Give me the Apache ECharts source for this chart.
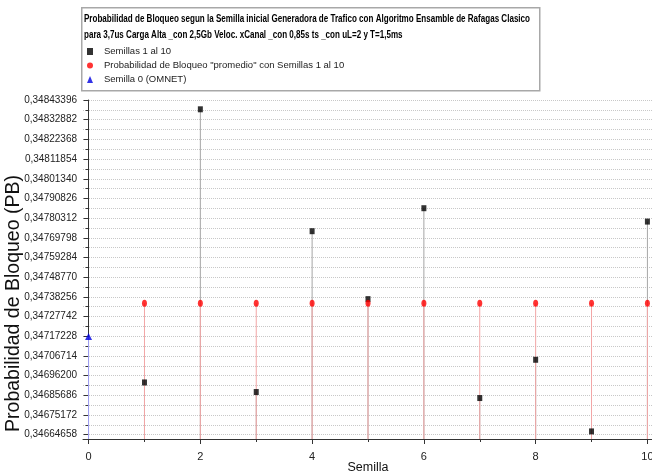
<!DOCTYPE html>
<html><head><meta charset="utf-8">
<script src="https://cdn.jsdelivr.net/npm/echarts@6/dist/echarts.min.js"></script>
<style>html,body{margin:0;padding:0;background:#fff}#c{width:652px;height:473px}</style>
</head><body><div id="c"></div>
<script>
// ---- data ----
const seeds = [1, 2, 3, 4, 5, 6, 7, 8, 9, 10];
const seedValues = [0.3469257, 0.3483843, 0.3468745, 0.3477334, 0.3473706, 0.3478561, 0.3468424, 0.3470468, 0.3466642, 0.3477847];
const meanValues = [0.3473483, 0.3473483, 0.3473483, 0.3473483, 0.3473483, 0.3473483, 0.3473483, 0.3473483, 0.3473483, 0.3473483];
const omnetSeeds = [0];
const omnetValues = [0.3471705];
const yTickLabels = ['0,34664658','0,34675172','0,34685686','0,34696200','0,34706714','0,34717228','0,34727742','0,34738256','0,34748770','0,34759284','0,34769798','0,34780312','0,34790826','0,34801340','0,34811854','0,34822368','0,34832882','0,34843396'];
const xTickValues = [0, 2, 4, 6, 8, 10];
const xMinorTickValues = [1, 3, 5, 7, 9];
const titleLines = [
  'Probabilidad de Bloqueo segun la Semilla inicial Generadora de Trafico con Algoritmo Ensamble de Rafagas Clasico',
  'para 3,7us Carga Alta _con 2,5Gb Veloc. xCanal _con 0,85s ts _con uL=2 y T=1,5ms'
];
const Y_MIN = 0.3466237, Y_MAX = 0.34843396;
const X_MIN = -0.1, X_MAX = 10.1;

const yMajor = yTickLabels.map(s => parseFloat(s.replace(',', '.')));
const yMinor = yMajor.slice(0, -1).map((v, i) => (v + yMajor[i + 1]) / 2);
const labelOf = {};
yMajor.forEach((v, i) => { labelOf[v.toFixed(8)] = yTickLabels[i]; });

const SANS = "'Liberation Sans', Arial, sans-serif";

function dropLines(xs, ys, color) {
  return {
    type: 'custom', silent: true, clip: true,
    data: xs.map((x, i) => [x, ys[i]]),
    renderItem(params, api) {
      const p1 = api.coord([api.value(0), api.value(1)]);
      const p0 = api.coord([api.value(0), Y_MIN]);
      return { type: 'line', shape: { x1: p0[0], y1: p0[1], x2: p1[0], y2: p1[1] }, style: { stroke: color, lineWidth: 1 } };
    }
  };
}

const chart = echarts.init(document.getElementById('c'), null, { renderer: 'canvas' });
chart.setOption({
  animation: false,
  backgroundColor: '#fff',
  legend: {
    orient: 'vertical', left: 87, top: 46.5, padding: 0, itemGap: 4,
    itemWidth: 6, itemHeight: 7,
    textStyle: { fontFamily: SANS, fontSize: 9.5, color: '#222', lineHeight: 9, padding: [0, 0, 0, 6] },
    data: [
      { name: 'Semillas 1 al 10', icon: 'rect', itemStyle: { color: '#000' } },
      { name: 'Probabilidad de Bloqueo "promedio" con Semillas 1 al 10', icon: 'circle' },
      { name: 'Semilla 0 (OMNET)', icon: 'triangle' }
    ]
  },
  graphic: [
    {
      type: 'rect', left: 81, top: 7, z: -1, silent: true,
      shape: { width: 458, height: 83 },
      style: { fill: 'rgba(255,255,255,0)', stroke: '#a8a8a8', lineWidth: 1.5 }
    },
    {
      type: 'text', x: 84, y: 18.5, scaleX: 0.70, silent: true,
      style: { text: titleLines[0], fontFamily: SANS, fontSize: 11.5, fontWeight: 'bold', fill: '#000', verticalAlign: 'middle' }
    },
    {
      type: 'text', x: 84, y: 35, scaleX: 0.70, silent: true,
      style: { text: titleLines[1], fontFamily: SANS, fontSize: 11.5, fontWeight: 'bold', fill: '#000', verticalAlign: 'middle' }
    }
  ],
  grid: { left: 83, right: -1, top: 100, bottom: 34, outerBoundsMode: 'none', containLabel: false },
  xAxis: [{
    type: 'value', min: X_MIN, max: X_MAX,
    name: 'Semilla', nameLocation: 'middle', nameGap: 22, nameMoveOverlap: false,
    nameTextStyle: { fontFamily: SANS, fontSize: 12.5, color: '#111' },
    axisLine: { show: true, lineStyle: { color: '#333', width: 1 } },
    axisTick: { show: true, length: 5, customValues: xTickValues, lineStyle: { color: '#333' } },
    axisLabel: { customValues: xTickValues, margin: 12, fontFamily: SANS, fontSize: 11, color: '#222' },
    splitLine: { show: false }
  }, {
    type: 'value', min: X_MIN, max: X_MAX, position: 'bottom',
    axisLine: { show: false },
    axisTick: { show: true, length: 3, customValues: xMinorTickValues, lineStyle: { color: '#333' } },
    axisLabel: { show: false }, splitLine: { show: false }
  }],
  yAxis: [{
    type: 'value', min: Y_MIN, max: Y_MAX, position: 'left',
    name: 'Probabilidad de Bloqueo (PB)', nameLocation: 'middle', nameGap: 59, nameMoveOverlap: false,
    nameTextStyle: { fontFamily: SANS, fontSize: 19.5, color: '#111', padding: [0, 68, 0, 0] },
    axisLine: { show: true, lineStyle: { color: '#333', width: 1 } },
    axisTick: { show: true, length: 5, customValues: yMajor, lineStyle: { color: '#333' } },
    axisLabel: {
      customValues: yMajor, margin: 6, fontFamily: SANS, fontSize: 10, color: '#222',
      formatter: v => labelOf[Number(v).toFixed(8)] || ''
    },
    splitLine: { show: true, lineStyle: { color: '#c8c8c8', type: 'dotted', width: 1 } }
  }, {
    type: 'value', min: Y_MIN, max: Y_MAX, position: 'left',
    axisLine: { show: false },
    axisTick: { show: true, length: 3, customValues: yMinor, lineStyle: { color: '#333' } },
    axisLabel: { show: false },
    splitLine: { show: true, lineStyle: { color: '#c8c8c8', type: 'dotted', width: 1 } }
  }],
  series: [
    dropLines(seeds, seedValues, '#a6a6a6'),
    dropLines(seeds, meanValues, '#f2a6a6'),
    dropLines(omnetSeeds, omnetValues, '#a6a6ff'),
    {
      name: 'Semillas 1 al 10', type: 'scatter', symbol: 'rect', symbolSize: [5, 6],
      itemStyle: { color: '#000' }, data: seeds.map((x, i) => [x, seedValues[i]])
    },
    {
      name: 'Probabilidad de Bloqueo "promedio" con Semillas 1 al 10', type: 'scatter', symbol: 'circle', symbolSize: [5, 7],
      itemStyle: { color: '#ff0000' }, data: seeds.map((x, i) => [x, meanValues[i]])
    },
    {
      name: 'Semilla 0 (OMNET)', type: 'scatter', symbol: 'triangle', symbolSize: [7, 7],
      itemStyle: { color: '#0000e0' }, data: omnetSeeds.map((x, i) => [x, omnetValues[i]])
    }
  ]
});
</script></body></html>
